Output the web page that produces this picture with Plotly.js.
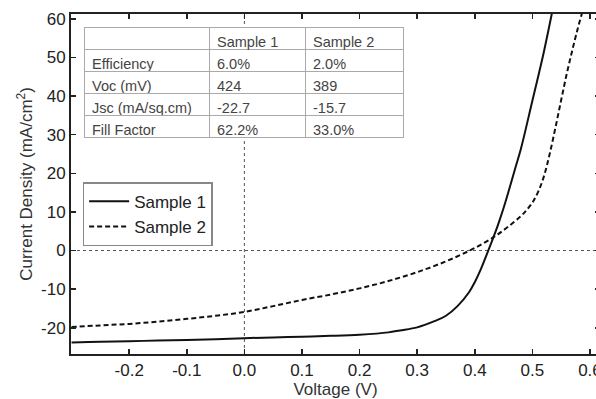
<!DOCTYPE html>
<html>
<head>
<meta charset="utf-8">
<script src="https://cdn.plot.ly/plotly-3.0.1.min.js"></script>
<style>
html,body{margin:0;padding:0;overflow:hidden;background:#fff;}
#chart{width:600px;height:399px;}
</style>
</head>
<body>
<div id="chart"></div>
<script>
// ---- data ----
const seriesNames = ["Sample 1", "Sample 2"];

const voltage1 = [-0.30,-0.25,-0.20,-0.15,-0.10,-0.05,0.00,0.05,0.10,0.15,0.20,0.25,0.27,0.30,0.33,0.35,0.37,0.39,0.40,0.41,0.42,0.43,0.44,0.45,0.46,0.47,0.48,0.50,0.52,0.54];
const current1 = [-23.8,-23.6,-23.5,-23.3,-23.2,-23.0,-22.7,-22.5,-22.3,-22.1,-21.8,-21.2,-20.7,-19.9,-18.3,-16.9,-14.4,-10.8,-8.2,-5.0,-1.3,2.5,6.5,11.0,16.0,21.2,26.3,38.8,51.5,66.0];

const voltage2 = [-0.30,-0.25,-0.20,-0.15,-0.10,-0.05,0.00,0.05,0.10,0.15,0.20,0.25,0.30,0.35,0.39,0.42,0.44,0.46,0.48,0.49,0.50,0.51,0.52,0.53,0.54,0.55,0.56,0.57,0.58,0.59,0.60];
const current2 = [-19.8,-19.4,-19.0,-18.4,-17.7,-16.9,-15.9,-14.4,-12.8,-11.4,-9.8,-7.9,-5.6,-2.8,-0.1,2.3,4.2,6.4,8.9,10.5,12.4,15.2,19.2,25.0,31.8,39.0,46.0,52.3,58.2,63.5,69.0];

const xTickValues = [-0.2,-0.1,0.0,0.1,0.2,0.3,0.4,0.5,0.6];
const xTickLabels = ["-0.2","-0.1","0.0","0.1","0.2","0.3","0.4","0.5","0.6"];
const yTickValues = [-20,-10,0,10,20,30,40,50,60];
const yTickLabels = ["-20","-10","0","10","20","30","40","50","60"];

const tableHeader = ["", "Sample 1", "Sample 2"];
const tableRowLabels = ["Efficiency", "Voc (mV)", "Jsc (mA/sq.cm)", "Fill Factor"];
const sample1Values = ["6.0%", "424", "-22.7", "62.2%"];
const sample2Values = ["2.0%", "389", "-15.7", "33.0%"];

const referenceZero = 0;

// ---- chart ----
const FONT = "Liberation Sans, Arial, sans-serif";
const traces = [
  {
    type: "scatter", mode: "lines", name: seriesNames[0],
    x: voltage1, y: current1,
    line: {color: "#111", width: 2, shape: "spline", smoothing: 1}
  },
  {
    type: "scatter", mode: "lines", name: seriesNames[1],
    x: voltage2, y: current2,
    line: {color: "#111", width: 2, dash: "5px,3px", shape: "spline", smoothing: 1}
  },
  {
    type: "table",
    domain: {x: [0.0246, 0.6295], y: [0.625, 0.959]},
    columnwidth: [125, 96, 98],
    header: {
      values: tableHeader,
      align: "left",
      height: 22,
      line: {color: "#aaa", width: 1},
      fill: {color: "#fff"},
      font: {family: FONT, size: 14.5, color: "#444"}
    },
    cells: {
      values: [tableRowLabels, sample1Values, sample2Values],
      align: "left",
      height: 22,
      line: {color: "#aaa", width: 1},
      fill: {color: "#fff"},
      font: {family: FONT, size: 14.5, color: "#444"}
    }
  }
];

const axisCommon = {
  showgrid: false, zeroline: false,
  showline: true, linewidth: 2, linecolor: "#222",
  mirror: "ticks", ticks: "inside", ticklen: 5, tickwidth: 1.5, tickcolor: "#222",
  ticklabeloverflow: "allow",
  tickfont: {family: FONT, size: 17, color: "#222"}
};

const layout = {
  width: 600, height: 399,
  margin: {l: 71, r: 0, t: 14, b: 45},
  paper_bgcolor: "#fff", plot_bgcolor: "#fff",
  font: {family: FONT, color: "#222"},
  showlegend: true,
  legend: {
    x: 0.022, y: 0.505, xanchor: "left", yanchor: "top",
    bgcolor: "#fff", bordercolor: "#888", borderwidth: 1.5,
    itemwidth: 40,
    font: {family: FONT, size: 17, color: "#222"}
  },
  xaxis: Object.assign({}, axisCommon, {
    range: [-0.301, 0.6174], tickmode: "array", tickvals: xTickValues, ticktext: xTickLabels,
    title: {text: "Voltage (V)", font: {family: FONT, size: 17, color: "#333"}, standoff: 2}
  }),
  yaxis: Object.assign({}, axisCommon, {
    range: [-26.8, 61.26], tickmode: "array", tickvals: yTickValues, ticktext: yTickLabels,
    title: {text: "Current Density (mA/cm<sup>2</sup>)", font: {family: FONT, size: 17, color: "#333"}, standoff: 4}
  }),
  shapes: [
    {type: "line", xref: "x", yref: "paper", x0: referenceZero, x1: referenceZero, y0: 0, y1: 1,
     line: {color: "#555", width: 1, dash: "dot"}, layer: "below"},
    {type: "line", xref: "paper", yref: "y", x0: 0, x1: 1, y0: referenceZero, y1: referenceZero,
     line: {color: "#555", width: 1, dash: "dot"}, layer: "below"}
  ]
};

Plotly.newPlot("chart", traces, layout, {displayModeBar: false, staticPlot: true});
</script>
</body>
</html>
